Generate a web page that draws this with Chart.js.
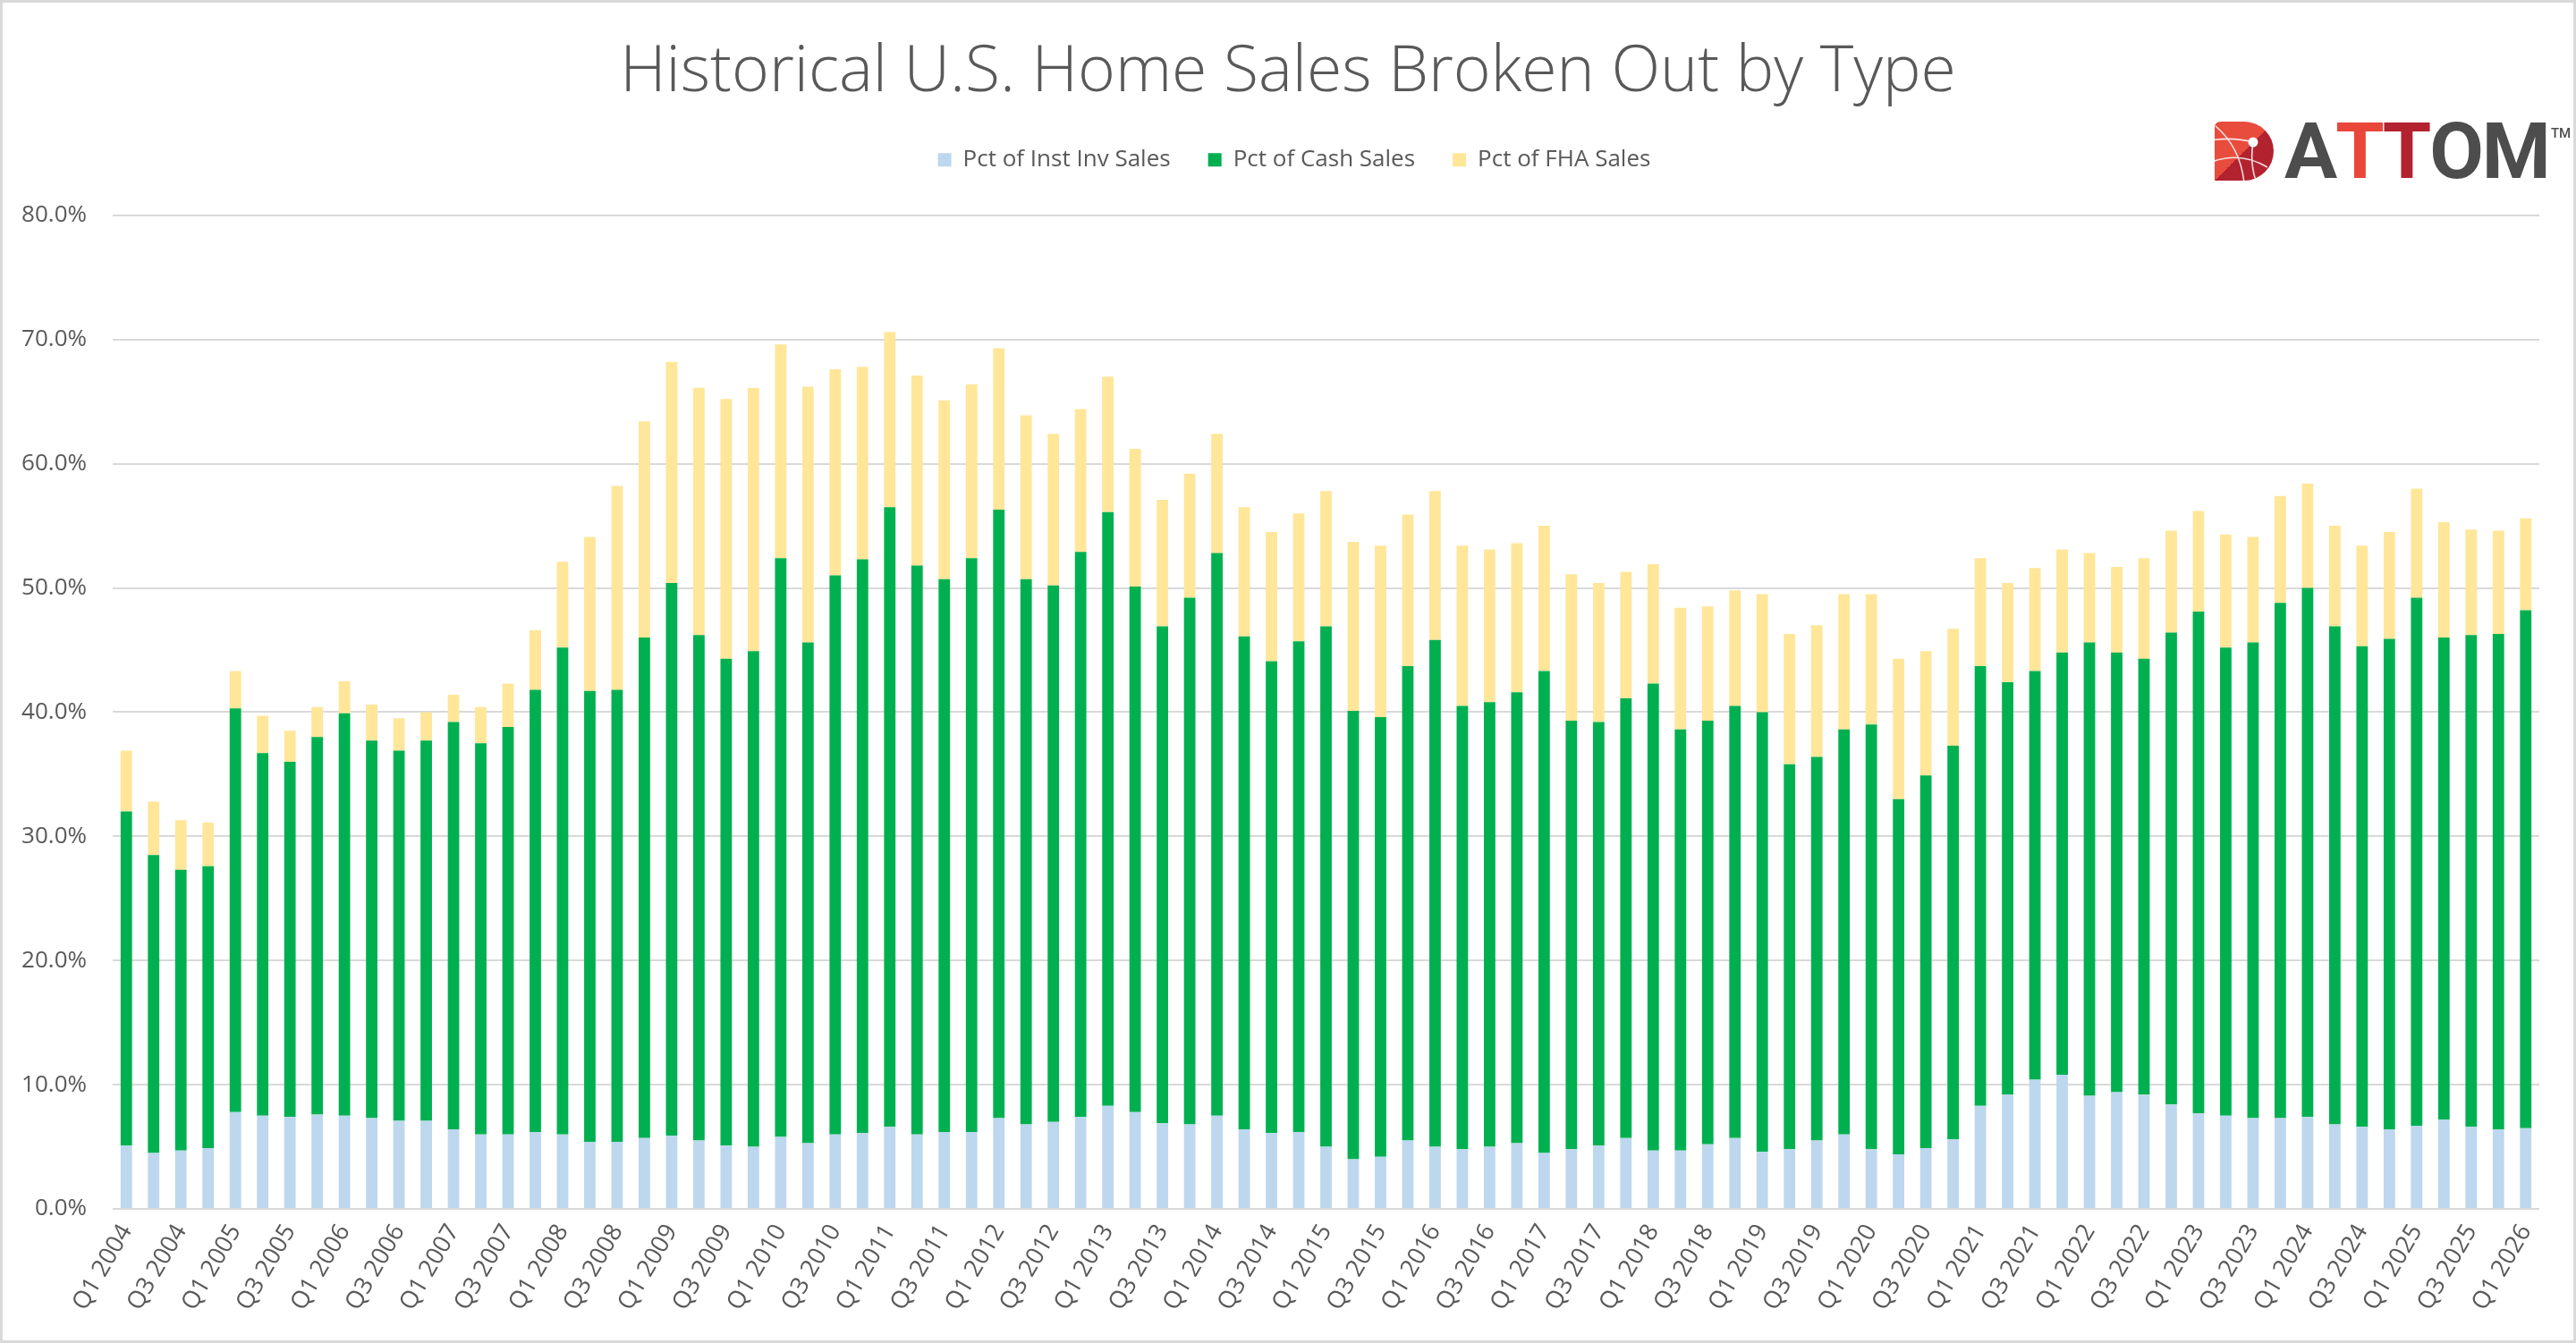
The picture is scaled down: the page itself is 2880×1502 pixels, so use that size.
<!DOCTYPE html>
<html>
<head>
<meta charset="utf-8">
<title>Historical U.S. Home Sales Broken Out by Type</title>
<script src="https://cdn.jsdelivr.net/npm/chart.js@4.4.1/dist/chart.umd.min.js"></script>
<style>
	html, body { margin: 0; padding: 0; background: #fff; }
	#wrap {
		position: relative;
		width: 2880px;
		height: 1502px;
		box-sizing: border-box;
		border: 3px solid #d9d9d9;
		overflow: hidden;
	}
	#chart { display: block; }
	#logo {
		position: absolute;
		left: 2472px;
		top: 121px;
		height: 90px;
		display: flex;
		align-items: center;
		font-family: Roboto, sans-serif;
		font-weight: 700;
		font-size: 88px;
		letter-spacing: -2px;
		color: #4d4d4d;
		line-height: 1;
	}
	#logo svg { margin-right: 11px; }
	#logo .t1 { color: #e8473a; }
	#logo .t2 { color: #b3222f; }
	#logo sup { font-size: 15px; letter-spacing: 0; font-weight: 500; align-self: flex-start; margin-top: 18px; margin-left: 2px; }
</style>
</head>
<body>
<div id="wrap">
	<canvas id="chart" width="2874" height="1496"></canvas>
	<div id="logo">
		<svg width="68" height="68" viewBox="0 0 68 68">
			<defs>
				<linearGradient id="split" x1="0" y1="0" x2="1" y2="1">
					<stop offset="0.5" stop-color="#e84c3d"/>
					<stop offset="0.5" stop-color="#b3222f"/>
				</linearGradient>
				<clipPath id="dshape">
					<path d="M8,1 H34 A33,33 0 0 1 34,67 H1 V8 Q1,1 8,1 Z"/>
				</clipPath>
			</defs>
			<path d="M8,1 H34 A33,33 0 0 1 34,67 H1 V8 Q1,1 8,1 Z" fill="url(#split)"/>
			<g clip-path="url(#dshape)" fill="none" stroke="#fff" stroke-width="1.6" opacity="0.85">
				<path d="M-4,22 Q22,18 44,24"/>
				<path d="M2,6 Q30,30 34,70"/>
				<path d="M-2,46 Q30,34 60,52"/>
				<path d="M44,24 Q40,48 48,70"/>
			</g>
			<circle cx="44" cy="24" r="5.5" fill="#fff"/>
		</svg>
		<span>A</span><span class="t1">T</span><span class="t2">T</span><span>OM</span><sup>TM</sup>
	</div>
</div>
<script>
'use strict'

// quarters Q1 2004 .. Q1 2026
const quarters = [];
for (let y = 2004; y <= 2026; y++) {
	for (let q = 1; q <= 4; q++) {
		if (y === 2026 && q > 1) break;
		quarters.push('Q' + q + ' ' + y);
	}
}

// percent of all sales
const instInvSales = [
	5.1, 4.5, 4.7, 4.9, 7.8, 7.5, 7.4, 7.6, 7.5, 7.3, 7.1, 7.1,
	6.4, 6.0, 6.0, 6.2, 6.0, 5.4, 5.4, 5.7, 5.9, 5.5, 5.1, 5.0,
	5.8, 5.3, 6.0, 6.1, 6.6, 6.0, 6.2, 6.2, 7.3, 6.8, 7.0, 7.4,
	8.3, 7.8, 6.9, 6.8, 7.5, 6.4, 6.1, 6.2, 5.0, 4.0, 4.2, 5.5,
	5.0, 4.8, 5.0, 5.3, 4.5, 4.8, 5.1, 5.7, 4.7, 4.7, 5.2, 5.7,
	4.6, 4.8, 5.5, 6.0, 4.8, 4.4, 4.9, 5.6, 8.3, 9.2, 10.4, 10.8,
	9.1, 9.4, 9.2, 8.4, 7.7, 7.5, 7.3, 7.3, 7.4, 6.8, 6.6, 6.4,
	6.7, 7.2, 6.6, 6.4, 6.5
];
const cashSales = [
	26.9, 24.0, 22.6, 22.7, 32.5, 29.2, 28.6, 30.4, 32.4, 30.4, 29.8, 30.6,
	32.8, 31.5, 32.8, 35.6, 39.2, 36.3, 36.4, 40.3, 44.5, 40.7, 39.2, 39.9,
	46.6, 40.3, 45.0, 46.2, 49.9, 45.8, 44.5, 46.2, 49.0, 43.9, 43.2, 45.5,
	47.8, 42.3, 40.0, 42.4, 45.3, 39.7, 38.0, 39.5, 41.9, 36.1, 35.4, 38.2,
	40.8, 35.7, 35.8, 36.3, 38.8, 34.5, 34.1, 35.4, 37.6, 33.9, 34.1, 34.8,
	35.4, 31.0, 30.9, 32.6, 34.2, 28.6, 30.0, 31.7, 35.4, 33.2, 32.9, 34.0,
	36.5, 35.4, 35.1, 38.0, 40.4, 37.7, 38.3, 41.5, 42.6, 40.1, 38.7, 39.5,
	42.5, 38.8, 39.6, 39.9, 41.7
];
const fhaSales = [
	4.9, 4.3, 4.0, 3.5, 3.0, 3.0, 2.5, 2.4, 2.6, 2.9, 2.6, 2.3,
	2.2, 2.9, 3.5, 4.8, 6.9, 12.4, 16.4, 17.4, 17.8, 19.9, 20.9, 21.2,
	17.2, 20.6, 16.6, 15.5, 14.1, 15.3, 14.4, 14.0, 13.0, 13.2, 12.2, 11.5,
	10.9, 11.1, 10.2, 10.0, 9.6, 10.4, 10.4, 10.3, 10.9, 13.6, 13.8, 12.2,
	12.0, 12.9, 12.3, 12.0, 11.7, 11.8, 11.2, 10.2, 9.6, 9.8, 9.2, 9.3,
	9.5, 10.5, 10.6, 10.9, 10.5, 11.3, 10.0, 9.4, 8.7, 8.0, 8.3, 8.3,
	7.2, 6.9, 8.1, 8.2, 8.1, 9.1, 8.5, 8.6, 8.4, 8.1, 8.1, 8.6,
	8.8, 9.3, 8.5, 8.3, 7.4
];

const colors = {
	instInv: '#bdd7ee',
	cash: '#00b050',
	fha: '#ffe699',
	text: '#595959',
	grid: '#d9d9d9',
};

// space under the legend, and centre title/legend on the whole canvas
const headerLayout = {
	id: 'headerLayout',
	beforeInit(chart) {
		const fit = chart.legend.fit;
		chart.legend.fit = function () {
			fit.bind(chart.legend)();
			this.height += 21;
		};
	},
	afterLayout(chart) {
		chart.titleBlock.left += 19;
		chart.titleBlock.right += 19;
		chart.legend.left += 26;
		chart.legend.right += 26;
		chart.legend.top -= 18;
		chart.legend.bottom -= 18;
	},
};

let barOpts = {
	stack: 'sales',
	borderWidth: 0,
	categoryPercentage: 1,
	barPercentage: 0.42,
};

let chart = new Chart(document.getElementById('chart'), {
	type: 'bar',
	data: {
		labels: quarters,
		datasets: [
			Object.assign({ label: 'Pct of Inst Inv Sales', data: instInvSales, backgroundColor: colors.instInv }, barOpts),
			Object.assign({ label: 'Pct of Cash Sales', data: cashSales, backgroundColor: colors.cash }, barOpts),
			Object.assign({ label: 'Pct of FHA Sales', data: fhaSales, backgroundColor: colors.fha }, barOpts),
		],
	},
	options: {
		responsive: false,
		animation: false,
		devicePixelRatio: 1,
		layout: {
			padding: { left: 0, right: 38, top: 0, bottom: 0 },
		},
		plugins: {
			title: {
				display: true,
				text: 'Historical U.S. Home Sales Broken Out by Type',
				color: colors.text,
				font: { family: 'Open Sans', size: 71.5, weight: 300 },
				padding: { top: 36, bottom: 17 },
			},
			legend: {
				display: true,
				labels: {
					color: colors.text,
					boxWidth: 15,
					boxHeight: 15,
					padding: 42,
					font: { family: 'Open Sans', size: 26 },
				},
			},
			tooltip: { enabled: false },
		},
		scales: {
			x: {
				stacked: true,
				grid: { display: false },
				border: { display: false },
				afterFit(scale) { scale.height = 147; },
				ticks: {
					autoSkip: false,
					maxRotation: 60,
					minRotation: 60,
					padding: 4,
					color: colors.text,
					font: { family: 'Open Sans', size: 27 },
					callback: function (value, index) {
						return index % 2 === 0 ? this.getLabelForValue(value) : '';
					},
				},
			},
			y: {
				stacked: true,
				min: 0,
				max: 80,
				afterFit(scale) { scale.width = 123; },
				grid: { color: colors.grid, lineWidth: 2, drawTicks: false },
				border: { display: false },
				ticks: {
					stepSize: 10,
					padding: 29,
					color: colors.text,
					font: { family: 'Open Sans', size: 26 },
					callback: (v) => v.toFixed(1) + '%',
				},
			},
		},
	},
	plugins: [headerLayout],
});
</script>
</body>
</html>
